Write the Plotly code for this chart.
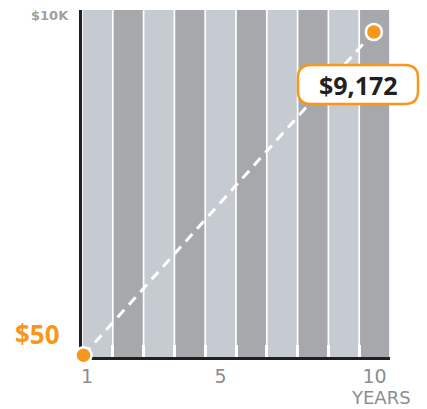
import plotly.graph_objects as go

# ---- data ----
band_years = list(range(1, 11))
growth_years = [1, 10]
growth_values = [50, 9172]
tick_labels = ["1", "5", "10"]
tick_positions = [0.66, 5, 10]
band_top = 9790
start_label = "$50"
end_label = "$9,172"
top_label = "$10K"
axis_title = "YEARS"

# ---- styling ----
LIGHT = "#c6cbd2"
DARK = "#a7a8ab"
ORANGE = "#f7981d"
INK = "#231f20"
GRAY = "#8b8e92"

W, H = 427, 409
L, R, T, B = 82, 390, 10, 357


def px(x):
    return (x - L) / (R - L)


def py(y):
    return (B - y) / (B - T)


band_colors = [LIGHT if i % 2 == 0 else DARK for i in range(len(band_years))]

fig = go.Figure()
fig.add_trace(go.Bar(
    x=band_years, y=[band_top] * len(band_years),
    marker=dict(color=band_colors, line=dict(width=0)),
    hoverinfo="skip", showlegend=False,
))
fig.add_trace(go.Scatter(
    x=growth_years, y=growth_values, xaxis="x2", yaxis="y",
    mode="lines+markers",
    line=dict(color="white", width=3, dash="10px,7px"),
    marker=dict(size=16, color=ORANGE, line=dict(color="white", width=2.5)),
    cliponaxis=False, hoverinfo="skip", showlegend=False,
))

# rounded label box
x0, x1, y0, y1, r = 298, 418, 65, 104, 13
pts = [
    ("M", x0 + r, y0), ("L", x1 - r, y0), ("Q", x1, y0, x1, y0 + r),
    ("L", x1, y1 - r), ("Q", x1, y1, x1 - r, y1), ("L", x0 + r, y1),
    ("Q", x0, y1, x0, y1 - r), ("L", x0, y0 + r), ("Q", x0, y0, x0 + r, y0),
]
path = ""
for p in pts:
    cmd = p[0]
    coords = p[1:]
    s = " ".join(f"{px(coords[i]):.5f},{py(coords[i+1]):.5f}" for i in range(0, len(coords), 2))
    path += f"{cmd}{s} "
path += "Z"

fig.update_layout(
    width=W, height=H, autosize=False,
    margin=dict(l=L, r=W - R, t=T, b=H - B, pad=0),
    paper_bgcolor="white", plot_bgcolor="white",
    bargap=0.055,
    showlegend=False,
    xaxis=dict(
        range=[0.5, 10.5], showgrid=False, zeroline=False, showline=False,
        tickmode="array", tickvals=tick_positions, ticktext=tick_labels,
        ticks="", tickfont=dict(family="DejaVu Sans", size=19, color=GRAY),
        ticklabelstandoff=6,
        minor=dict(tickmode="array", tickvals=[b + 0.5 for b in band_years[:-1]],
                   ticks="inside", ticklen=12, tickwidth=3, tickcolor="white",
                   showgrid=False),
        layer="above traces", fixedrange=True,
    ),
    xaxis2=dict(overlaying="x", range=[0.954, 10.5], visible=False, fixedrange=True),
    yaxis=dict(
        range=[0, band_top], showgrid=False, zeroline=False,
        showticklabels=False, ticks="", showline=True, linecolor=INK,
        linewidth=3, layer="below traces", fixedrange=True,
    ),
    shapes=[
        dict(type="line", xref="paper", yref="paper",
             x0=px(79), x1=px(390), y0=py(358.5), y1=py(358.5),
             line=dict(color=INK, width=3), layer="below"),
        dict(type="path", xref="paper", yref="paper", path=path,
             fillcolor="white", line=dict(color=ORANGE, width=2.5), layer="above"),
    ],
    annotations=[
        dict(text=end_label, xref="paper", yref="paper", x=px(358), y=py(85),
             xanchor="center", yanchor="middle", showarrow=False,
             font=dict(family="Open Sans", size=25, color=INK, weight="bold")),
        dict(text=start_label, xref="paper", yref="paper", x=px(37), y=py(334),
             xanchor="center", yanchor="middle", showarrow=False,
             font=dict(family="Open Sans", size=26, color=ORANGE, weight="bold")),
        dict(text=top_label, xref="paper", yref="paper", x=px(71), y=py(16),
             xanchor="right", yanchor="middle", showarrow=False,
             font=dict(family="DejaVu Sans", size=13, color="#a0a0a0", weight="bold")),
        dict(text=axis_title, xref="paper", yref="paper", x=px(413), y=py(397),
             xanchor="right", yanchor="middle", showarrow=False,
             font=dict(family="DejaVu Sans", size=18, color=GRAY)),
    ],
)

fig.write_html("out.html", post_script="document.body.style.margin='0';",
               config={"displayModeBar": False})
